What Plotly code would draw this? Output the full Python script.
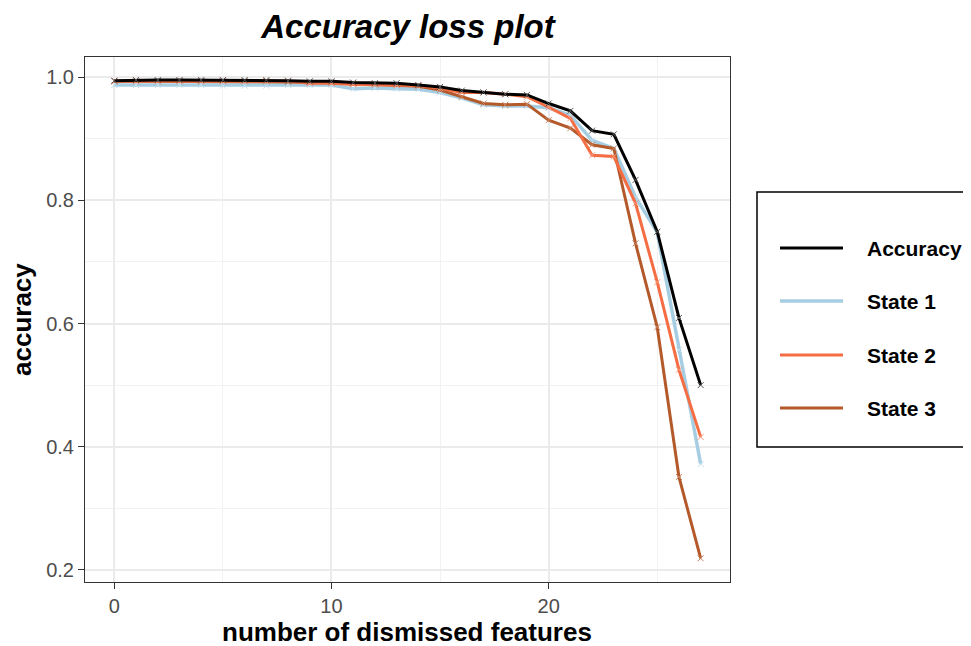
import plotly.graph_objects as go

features = list(range(28))
accuracy = [0.994, 0.995, 0.995, 0.995, 0.995, 0.995, 0.995, 0.995, 0.994, 0.993,
            0.993, 0.991, 0.990, 0.990, 0.987, 0.984, 0.978, 0.975, 0.972, 0.971,
            0.957, 0.945, 0.913, 0.907, 0.833, 0.749, 0.609, 0.500]
state1 = [0.987, 0.987, 0.987, 0.987, 0.987, 0.986, 0.986, 0.986, 0.987, 0.987,
          0.987, 0.981, 0.982, 0.981, 0.980, 0.975, 0.966, 0.955, 0.953, 0.953,
          0.950, 0.938, 0.897, 0.884, 0.805, 0.748, 0.557, 0.372]
state2 = [0.993, 0.993, 0.993, 0.993, 0.993, 0.993, 0.993, 0.993, 0.993, 0.990,
          0.990, 0.988, 0.988, 0.987, 0.986, 0.982, 0.975, 0.975, 0.972, 0.968,
          0.951, 0.933, 0.873, 0.871, 0.795, 0.667, 0.525, 0.416]
state3 = [0.993, 0.993, 0.993, 0.993, 0.993, 0.993, 0.993, 0.993, 0.992, 0.991,
          0.991, 0.989, 0.988, 0.987, 0.985, 0.979, 0.968, 0.957, 0.955, 0.956,
          0.930, 0.917, 0.890, 0.884, 0.730, 0.594, 0.351, 0.219]

names = ["Accuracy", "State 1", "State 2", "State 3"]
series = [accuracy, state1, state2, state3]
colors = ["#000000", "#A6CEE3", "#F46D43", "#B3592A"]
marker_colors = ["#555555", "#C5DFEE", "#F79A7D", "#C9845F"]
widths = [3, 3.5, 3, 3]

FONT = "Liberation Sans, Arial, Helvetica, sans-serif"

W, H = 963, 638
L, R, T, B = 77, 241, 49, 64
PW, PH = W - L - R, H - T - B


def px(X):
    return (X - L) / PW


def py(Y):
    return (H - B - Y) / PH


fig = go.Figure()
order = [1, 3, 2, 0]
for i in order:
    fig.add_trace(go.Scatter(
        x=features, y=series[i], name=names[i], mode="lines+markers",
        line=dict(color=colors[i], width=widths[i]),
        marker=dict(symbol="x-thin", size=6, line=dict(width=1, color=marker_colors[i]),
                    color=marker_colors[i]),
        showlegend=False,
    ))

# manual legend (ggplot style)
shapes = [dict(type="rect", xref="paper", yref="paper",
               x0=px(749), x1=px(985), y0=py(439), y1=py(184),
               line=dict(color="#000000", width=1.5), fillcolor="rgba(0,0,0,0)")]
annotations = []
rows = [240, 293, 347, 400]
for k, i in enumerate([0, 1, 2, 3]):
    yp = py(rows[k])
    shapes.append(dict(type="line", xref="paper", yref="paper",
                       x0=px(772), x1=px(835), y0=yp, y1=yp,
                       line=dict(color=colors[i], width=widths[i])))
    annotations.append(dict(xref="paper", yref="paper", x=px(857), y=yp,
                            xanchor="left", yanchor="middle", showarrow=False,
                            text="<b>%s</b>" % names[i],
                            font=dict(family=FONT, size=21, color="#000000")))

# axis titles
annotations.append(dict(xref="paper", yref="paper", x=px(399), y=py(624),
                        xanchor="center", yanchor="middle", showarrow=False,
                        text="<b>number of dismissed features</b>", borderpad=0,
                        font=dict(family=FONT, size=26, color="#000000")))
annotations.append(dict(xref="paper", yref="paper", x=px(14), y=py(312),
                        xanchor="center", yanchor="middle", showarrow=False, textangle=-90,
                        text="<b>accuracy</b>", borderpad=0,
                        font=dict(family=FONT, size=26, color="#000000")))

fig.update_layout(
    width=W, height=H,
    margin=dict(l=L, r=R, t=T, b=B),
    paper_bgcolor="white", plot_bgcolor="white",
    font=dict(family=FONT),
    title=dict(text="<b><i>Accuracy loss plot</i></b>", x=400 / W, xanchor="center",
               y=1 - 18 / H, yanchor="middle",
               font=dict(family=FONT, size=33, color="#000000")),
    shapes=shapes, annotations=annotations,
)
fig.update_xaxes(
    range=[-1.35, 28.35], tickvals=[0, 10, 20], ticktext=["0", "10", "20"],
    showgrid=True, gridcolor="#EBEBEB", gridwidth=1.6,
    minor=dict(tickvals=[5, 15, 25], showgrid=True, gridcolor="#F2F2F2", gridwidth=1),
    ticks="outside", ticklen=6, tickcolor="#333333", tickwidth=1.2,
    tickfont=dict(family=FONT, size=20, color="#4D4D4D"),
    showline=True, linecolor="#333333", linewidth=1, mirror=True, zeroline=False,
    automargin=False,
)
fig.update_yaxes(
    range=[0.1805, 1.0325], tickvals=[0.2, 0.4, 0.6, 0.8, 1.0],
    ticktext=["0.2", "0.4", "0.6", "0.8", "1.0"],
    showgrid=True, gridcolor="#EBEBEB", gridwidth=1.6,
    minor=dict(tickvals=[0.3, 0.5, 0.7, 0.9], showgrid=True, gridcolor="#F2F2F2", gridwidth=1),
    ticks="outside", ticklen=6, tickcolor="#333333", tickwidth=1.2,
    tickfont=dict(family=FONT, size=20, color="#4D4D4D"),
    showline=True, linecolor="#333333", linewidth=1, mirror=True, zeroline=False,
    automargin=False,
)

fig.write_html("out.html")
